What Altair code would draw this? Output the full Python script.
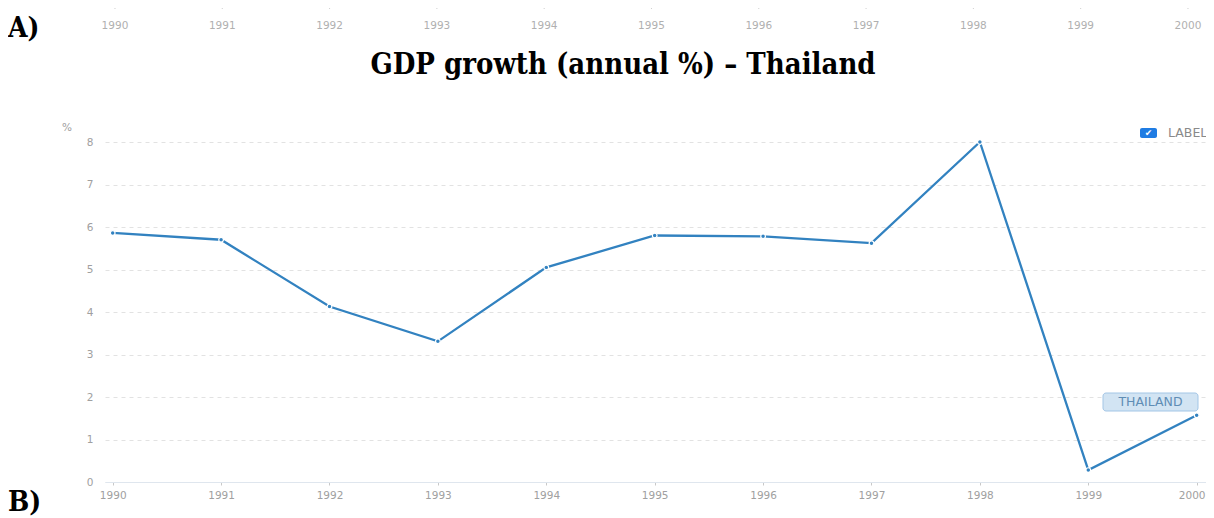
import altair as alt
import pandas as pd

years = [1990, 1991, 1992, 1993, 1994, 1995, 1996, 1997, 1998, 1999, 2000]
growth = [5.86, 5.70, 4.13, 3.31, 5.05, 5.80, 5.78, 5.62, 8.00, 0.28, 1.57]
y_ticks = [0, 1, 2, 3, 4, 5, 6, 7, 8]
series_name = "THAILAND"
legend_label = "LABEL"
title_text = "GDP growth (annual %) \u2013 Thailand"
unit_label = "%"

LINE = "#3282c0"
GRAY = "#a0a0a0"
SERIF = "DejaVu Serif Condensed, DejaVu Serif, serif"
SANS = "DejaVu Sans"

df = pd.DataFrame({"year": years, "value": growth})
top_df = pd.DataFrame({"year": years})

W, H = 1101, 340

main_scale = alt.Scale(domain=[1989.929, 2000.086], nice=False, zero=False)
x_main = alt.X(
    "year:Q",
    scale=main_scale,
    axis=alt.Axis(
        values=years, format="d", title=None, grid=False,
        domainColor="#dfe6ee", tickColor="#c8c8c8", tickSize=3,
        labelColor=GRAY, labelFontSize=10.5, labelFont=SANS,
        labelPadding=5, labelFlush=False,
        labelOffset=alt.expr("datum.value == 2000 ? -5 : 0"),
    ),
)
y_main = alt.Y(
    "value:Q",
    scale=alt.Scale(domain=[0, 8], nice=False),
    axis=alt.Axis(
        values=y_ticks, title=None, domain=False, ticks=False,
        grid=True, gridDash=[4, 4], gridColor="#e2e2e2",
        labelColor=GRAY, labelFontSize=10.5, labelFont=SANS,
        labelPadding=12,
    ),
)

line = alt.Chart(df).mark_line(color=LINE, strokeWidth=2.3).encode(x=x_main, y=y_main)
pts = alt.Chart(df).mark_circle(color=LINE, size=22, opacity=1, stroke="white", strokeWidth=1.2).encode(
    x=alt.X("year:Q", scale=main_scale, axis=None),
    y=alt.Y("value:Q"),
)

# top strip (axis of a panel above)
top_scale = alt.Scale(domain=[1989.907, 2000.168], nice=False, zero=False)
top_ticks = alt.Chart(top_df).mark_rule(color="#cfcfcf", strokeWidth=1).encode(
    x=alt.X("year:Q", scale=top_scale, axis=None),
    y=alt.value(-136), y2=alt.value(-133),
)
top_labels = alt.Chart(top_df).mark_text(
    color="#b0b0b0", fontSize=10.5, font=SANS, baseline="middle"
).encode(
    x=alt.X("year:Q", scale=top_scale, axis=None),
    y=alt.value(-116),
    text=alt.Text("year:Q", format="d"),
)

def label(txt, x, y, **kw):
    return alt.Chart(pd.DataFrame({"t": [txt]})).mark_text(**kw).encode(
        x=alt.value(x), y=alt.value(y), text="t:N"
    )

title = label(title_text, 518, -77, fontSize=29, fontWeight="bold",
              font=SERIF, color="#000000", baseline="middle", align="center")
a_lab = label("A)", -97, -113, fontSize=28, fontWeight="bold",
              font=SERIF, color="#000000", baseline="middle", align="left")
b_lab = label("B)", -97, 361, fontSize=28, fontWeight="bold",
              font=SERIF, color="#000000", baseline="middle", align="left")
unit = label(unit_label, -38, -14, fontSize=10.5, font=SANS, color=GRAY,
             baseline="middle", align="center")

# legend checkbox
box = alt.Chart(pd.DataFrame({"a": [0]})).mark_rect(
    color="#1f7ce3", cornerRadius=2
).encode(x=alt.value(1035), x2=alt.value(1052), y=alt.value(-14), y2=alt.value(-4))
check = label("\u2714", 1043.5, -9, fontSize=9, font=SANS, color="white",
              baseline="middle", align="center")
leg_txt = label(legend_label, 1063, -9, fontSize=12.5, font=SANS, color="#8a8a8a",
                baseline="middle", align="left")

# series annotation
ann_box = alt.Chart(pd.DataFrame({"a": [0]})).mark_rect(
    fill="#d2e4f3", stroke="#a3c6e6", strokeWidth=1, cornerRadius=3
).encode(x=alt.value(998), x2=alt.value(1093), y=alt.value(251), y2=alt.value(269))
ann_txt = label(series_name, 1045.5, 260, fontSize=12.5, font=SANS, color="#5f8db5",
                baseline="middle", align="center")

chart = alt.layer(
    line, pts, top_ticks, top_labels, title, a_lab, b_lab, unit,
    box, check, leg_txt, ann_box, ann_txt,
).resolve_scale(x="independent").properties(
    width=W, height=H,
    padding={"left": 97, "top": 134, "right": 0, "bottom": 34},
    autosize=alt.AutoSizeParams(type="none"),
).configure_view(stroke=None)

chart.save("out.html", embed_options={"renderer": "svg", "actions": False})
